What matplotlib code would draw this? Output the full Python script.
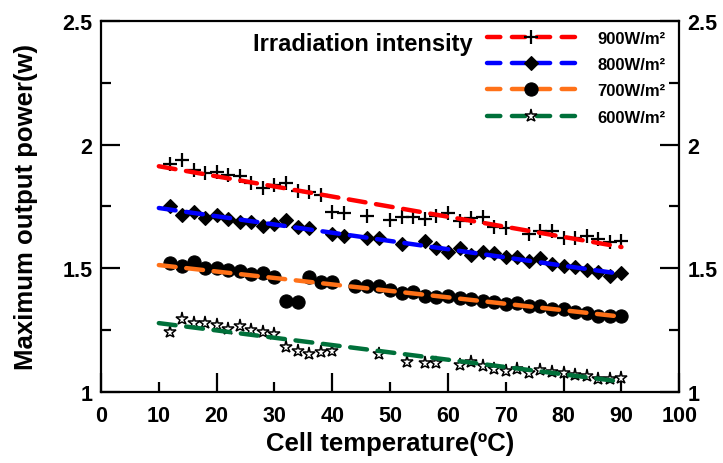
import matplotlib
matplotlib.use('Agg')
import matplotlib.pyplot as plt
from matplotlib.lines import Line2D
from matplotlib.ticker import MultipleLocator, FormatStrFormatter

plt.rcParams['font.family'] = ['Liberation Sans', 'DejaVu Sans']
plt.rcParams['font.weight'] = 'bold'

# **Measured points (cell temperature in C, power in W)**
t_900 = [12, 14, 16, 18, 20, 22, 24, 26, 28, 30, 32, 34, 36, 38, 40, 42,
         46, 50, 52, 54, 56, 58, 60, 62, 64, 66, 68, 70,
         74, 76, 78, 80, 82, 84, 86, 88, 90]
p_900 = [1.921, 1.938, 1.898, 1.885, 1.890, 1.877, 1.874, 1.843, 1.823, 1.836, 1.844, 1.811, 1.809, 1.796, 1.728, 1.721,
         1.712, 1.696, 1.708, 1.705, 1.698, 1.712, 1.723, 1.692, 1.701, 1.705, 1.665, 1.661,
         1.638, 1.651, 1.651, 1.620, 1.620, 1.628, 1.617, 1.606, 1.608]

t_800 = [12, 14, 16, 18, 20, 22, 24, 26, 28, 30, 32, 34, 36,
         40, 42, 46, 48, 52, 56, 58, 60, 62,
         64, 66, 68, 70, 72, 74, 76, 78, 80, 82, 84, 86, 88, 90]
p_800 = [1.750, 1.715, 1.726, 1.702, 1.716, 1.698, 1.685, 1.687, 1.671, 1.678, 1.696, 1.665, 1.661,
         1.638, 1.631, 1.620, 1.620, 1.597, 1.611, 1.580, 1.566, 1.582,
         1.553, 1.564, 1.561, 1.543, 1.546, 1.530, 1.539, 1.516, 1.509, 1.503, 1.493, 1.483, 1.469, 1.480]

t_700 = [12, 14, 16, 18, 20, 22, 24, 26, 28, 30, 32, 34, 36, 38, 40,
         44, 46, 48, 50, 52, 54, 56, 58, 60, 62, 64, 66, 68, 70, 72, 74, 76, 78, 80, 82, 84, 86, 88, 90]
p_700 = [1.519, 1.509, 1.523, 1.499, 1.499, 1.493, 1.487, 1.476, 1.480, 1.462, 1.368, 1.364, 1.465, 1.442, 1.442,
         1.426, 1.426, 1.428, 1.412, 1.398, 1.402, 1.388, 1.381, 1.388, 1.379,
         1.374, 1.368, 1.361, 1.354, 1.358, 1.347, 1.345, 1.334, 1.334, 1.323, 1.318, 1.304, 1.304, 1.304]

t_600 = [12, 14, 16, 18, 20, 22, 24, 26, 28, 30, 32, 34, 36, 38, 40,
         48, 53, 56, 58, 62,
         64, 66, 68, 70, 72, 74, 76, 78, 80, 82, 84, 86, 88, 90]
p_600 = [1.240, 1.294, 1.277, 1.277, 1.270, 1.253, 1.266, 1.250, 1.242, 1.233, 1.179, 1.165, 1.152, 1.159, 1.165,
         1.152, 1.118, 1.115, 1.115, 1.107,
         1.118, 1.102, 1.091, 1.084, 1.091, 1.075, 1.088, 1.080, 1.075, 1.067, 1.062, 1.051, 1.051, 1.053]

# **Linear fits (end points)**
fit_t = [10, 90]
fit_900 = [1.912, 1.585]
fit_800 = [1.743, 1.476]
fit_700 = [1.512, 1.303]
fit_600 = [1.277, 1.040]

labels = ['900W/m²', '800W/m²', '700W/m²', '600W/m²']

series = [
    (t_900, p_900, fit_900, '#ff0000', dict(marker='+', ms=10, mew=1.6, mfc='black', mec='black')),
    (t_800, p_800, fit_800, '#0000ff', dict(marker='D', ms=7.5, mew=0.8, mfc='black', mec='black')),
    (t_700, p_700, fit_700, '#ff7118', dict(marker='o', ms=9.5, mew=0.8, mfc='black', mec='black')),
    (t_600, p_600, fit_600, '#00703a', dict(marker='*', ms=9.5, mew=1.1, mfc='white', mec='black')),
]

fig = plt.figure(figsize=(7.23, 4.64), dpi=100)
ax = fig.add_axes([0.1397, 0.154, 0.7998, 0.7986])

handles = []
for t, p, fit, color, mk in series:
    ax.plot(t, p, linestyle='none', zorder=2, **mk)
    ax.plot(fit_t, fit, color=color, lw=3.2, dashes=(3.8, 2.4),
            dash_capstyle='round', zorder=3)
    handles.append(Line2D([], [], color=color, lw=3.2, dashes=(3.0, 2.6),
                          dash_capstyle='round', **mk))

ax.set_xlim(0, 100)
ax.set_ylim(1, 2.5)

# ticks: long ones at major, short ones at minor
ax.xaxis.set_major_locator(MultipleLocator(20))
ax.xaxis.set_minor_locator(MultipleLocator(10))
ax.xaxis.set_minor_formatter(FormatStrFormatter('%d'))
ax.yaxis.set_major_locator(MultipleLocator(0.5))
ax.yaxis.set_minor_locator(MultipleLocator(0.25))
ax.yaxis.set_major_formatter(FormatStrFormatter('%g'))

ax.tick_params(axis='both', which='both', direction='in', width=1.6,
               labelsize=15.5, right=True, labelright=True, top=False)
ax.tick_params(axis='both', which='major', length=14)
ax.tick_params(axis='both', which='minor', length=7)
ax.tick_params(axis='x', which='both', pad=10)
ax.tick_params(axis='y', which='both', pad=6)

for side in ax.spines.values():
    side.set_linewidth(1.6)

ax.set_xlabel('Cell temperature(ºC)', fontsize=18.5, fontweight='bold', labelpad=3)
ax.set_ylabel('Maximum output power(w)', fontsize=18.5, fontweight='bold', labelpad=18)

ax.text(0.263, 0.938, 'Irradiation intensity', transform=ax.transAxes,
        fontsize=17, fontweight='bold', ha='left', va='center')
ax.legend(handles, labels, loc='upper left', bbox_to_anchor=(0.668, 0.974),
          frameon=False, fontsize=12, handlelength=5.3, handletextpad=1.3,
          labelspacing=0.68, borderaxespad=0, borderpad=0, numpoints=1)

plt.savefig('out.png', dpi=100)
